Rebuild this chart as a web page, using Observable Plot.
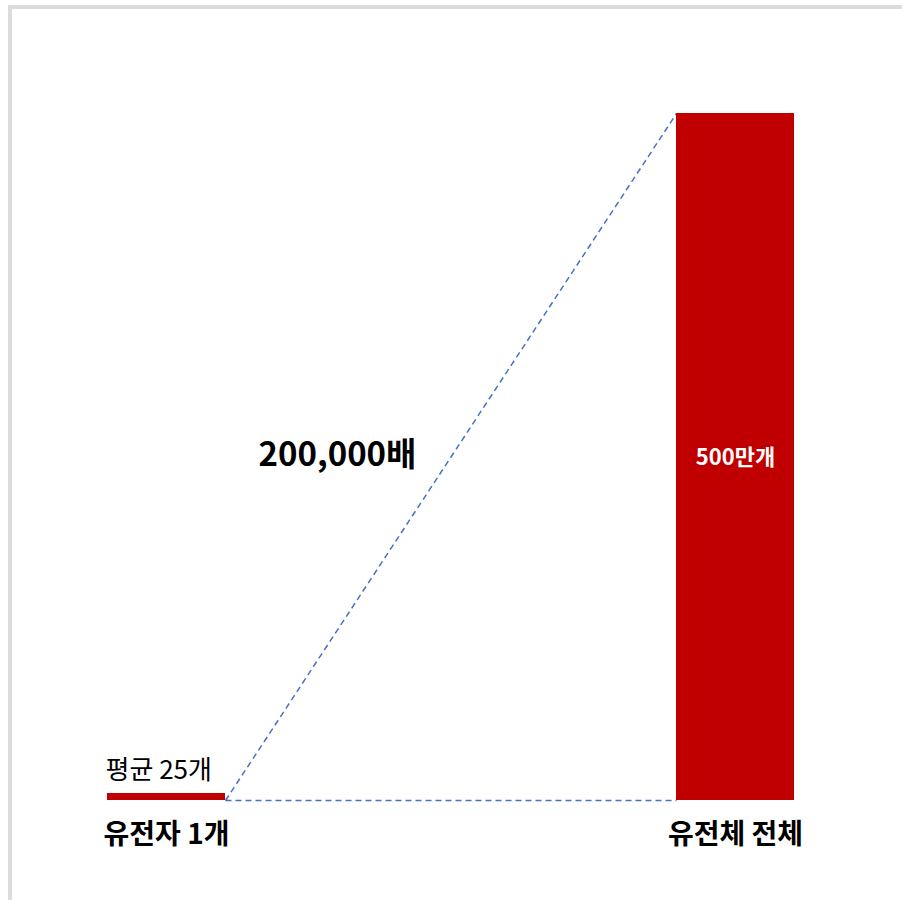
<!DOCTYPE html>
<html>
<head>
<meta charset="utf-8">
<script src="https://cdn.jsdelivr.net/npm/d3@7"></script>
<script src="https://cdn.jsdelivr.net/npm/@observablehq/plot@0.6"></script>
<style>
  html, body { margin: 0; padding: 0; background: #fff; }
  #chart { position: absolute; left: 0; top: 0; }
  #frame { position: absolute; left: 8px; top: 5px; width: 894px; height: 895px;
           border-top: 4px solid #dcdcdc; border-left: 4px solid #dcdcdc; pointer-events: none; }
</style>
</head>
<body>
<div id="chart"></div>
<div id="frame"></div>
<script>
const categories = ["유전자 1개", "유전체 전체"];
const values = [25, 5000000];
const valueLabels = ["평균 25개", "500만개"];
const ratioSuffix = "배";

const bars = categories.map((c, i) => ({category: c, value: values[i], label: valueLabels[i]}));
const links = [
  {from: categories[0], to: categories[1], y1: 0, y2: values[1]},
  {from: categories[0], to: categories[1], y1: 0, y2: 0}
];
const ratioText = d3.format(",")(values[1] / values[0]) + ratioSuffix;

const chart = Plot.plot({
  width: 902,
  height: 900,
  marginTop: 113,
  marginBottom: 100,
  marginLeft: 0,
  marginRight: 2,
  style: {fontFamily: "'Noto Sans CJK KR', 'Noto Sans', sans-serif", background: "transparent", color: "#000"},
  x: {domain: categories, paddingInner: 0.793, paddingOuter: 0.186},
  y: {domain: [0, values[1]], axis: null},
  marks: [
    Plot.link(links, {
      x1: "from", x2: "to", y1: "y1", y2: "y2",
      stroke: "#4472c4", strokeWidth: 1.5, strokeDasharray: "6,4",
      render(index, scales, vals, dimensions, context, next) {
        const bw = scales.x.bandwidth();
        const x1 = links.map(d => scales.x(d.from) + bw / 2);
        const x2 = links.map(d => scales.x(d.to) - bw / 2);
        return next(index, scales, {...vals, x1, x2}, dimensions, context);
      }
    }),
    Plot.barY(bars.slice(0, 1), {x: "category", y: "value", fill: "#c00000", insetTop: -7}),
    Plot.barY(bars.slice(1), {x: "category", y: "value", fill: "#c00000"}),
    Plot.axisX({tickSize: 0, tickPadding: 24, fontSize: 28, fontWeight: "bold", label: null}),
    Plot.text(bars.slice(0, 1), {x: "category", y: "value", text: "label", textAnchor: "start",
      dx: -61, dy: -30, lineAnchor: "middle", fontSize: 26, fill: "#000"}),
    Plot.text(bars.slice(1), {x: "category", y: d => d.value / 2, text: "label",
      dy: 1, lineAnchor: "middle", fontSize: 22, fontWeight: "bold", fill: "#fff"}),
    Plot.text([ratioText], {x: () => categories[0], y: () => values[1] / 2, text: d => d,
      dx: 171, dy: -2, lineAnchor: "middle", fontSize: 33, fontWeight: "bold", fill: "#000"})
  ]
});
document.getElementById("chart").append(chart);
</script>
</body>
</html>
